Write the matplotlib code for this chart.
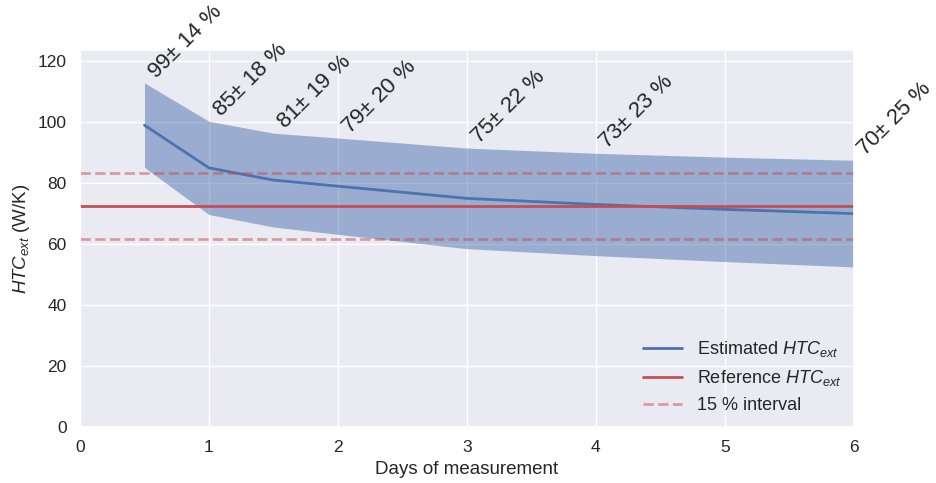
import numpy as np
import matplotlib
matplotlib.use("Agg")
import matplotlib.pyplot as plt
import seaborn as sns

# days of measurement and estimated HTC (W/K)
days = [0.5, 1, 1.5, 2, 3, 4, 5, 6]
htc_est = [99, 85, 81, 79, 75, 73, 71.4, 70]
rel_unc = [14, 18, 19, 20, 22, 23, 24, 25]   # % uncertainty
labelled = [True, True, True, True, True, True, False, True]
htc_ref = 72.5
interval = 15  # %

sns.set_theme(style="darkgrid")
plt.rcParams["font.family"] = ["Liberation Sans", "DejaVu Sans"]
plt.rcParams["mathtext.fontset"] = "custom"
plt.rcParams["mathtext.rm"] = "Liberation Sans"
plt.rcParams["mathtext.it"] = "Liberation Sans:italic"

blue = "#4C72B0"
red = "#C44E52"

fig = plt.figure(figsize=(9.36, 4.83), dpi=100)
ax = fig.add_axes([0.0855, 0.116, 0.8265, 0.78])

x = np.array(days)
y = np.array(htc_est)
u = np.array(rel_unc) / 100
upper = y * (1 + u)
lower = y * (1 - u)

ax.fill_between(x, lower, upper, color=blue, alpha=0.5, linewidth=0)
ax.plot(x, y, color=blue, lw=2, label="Estimated $HTC_{ext}$")
ax.axhline(htc_ref, color=red, lw=2, label="Reference $HTC_{ext}$")
ax.axhline(htc_ref * (1 + interval / 100), color=red, lw=2, ls="--", alpha=0.5,
           label="15 % interval")
ax.axhline(htc_ref * (1 - interval / 100), color=red, lw=2, ls="--", alpha=0.5)

# annotations with the relative uncertainty
for xi, yi, ui, p, show in zip(x, y, upper, rel_unc, labelled):
    if show:
        ax.text(xi, ui, f"{yi:.0f}$\\pm$ {p} %", rotation=45, ha="left", va="bottom",
                fontsize=16, color="#262626", clip_on=False)

ax.set_xlim(0, 6)
ax.set_ylim(0, 123.6)
ax.set_yticks(range(0, 121, 20))
ax.tick_params(labelsize=12.5)
ax.set_xlabel("Days of measurement", fontsize=13.5)
ax.set_ylabel("$HTC_{ext}$ (W/K)", fontsize=13.5)
ax.legend(loc="lower right", fontsize=13, frameon=False, borderaxespad=0.3,
          labelspacing=0.5, handlelength=2.2)

fig.savefig("out.png", dpi=100)
